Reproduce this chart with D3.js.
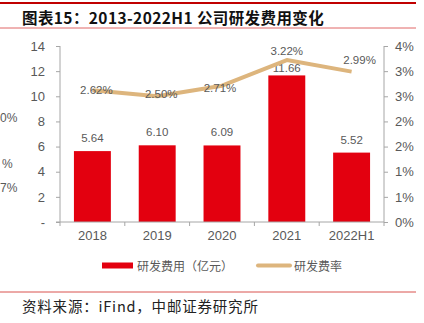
<!DOCTYPE html>
<html><head><meta charset="utf-8">
<script src="https://cdn.jsdelivr.net/npm/d3@7"></script>
<style>
html,body{margin:0;padding:0;background:#fff;}
svg{display:block;}
</style></head>
<body>
<svg id="c" width="424" height="323"></svg>
<script>
const categories = ["2018","2019","2020","2021","2022H1"];
const rdExpense = [5.64, 6.10, 6.09, 11.66, 5.52];
const rdRatio = [2.62, 2.50, 2.71, 3.22, 2.99];
const leftTicks = [0,2,4,6,8,10,12,14];
const leftTickLabels = ["-","2","4","6","8","10","12","14"];
const rightTicks = [0,0.5,1,1.5,2,2.5,3,3.5];
const rightTickLabels = ["0%","1%","1%","2%","2%","3%","3%","4%"];
const legendLabels = ["研发费用（亿元）","研发费率"];
const titleText = "图表15：2013-2022H1 公司研发费用变化";
const sourceText = "资料来源：iFind，中邮证券研究所";
const strayLabels = ["0%","%","7%"];

const svg = d3.select("#c");
const latin = "'Liberation Sans', Arial, 'Noto Sans CJK SC', sans-serif";
const cjk = "'Noto Sans CJK SC', sans-serif";
const gray = "#595959";
const axisGray = "#a6a6a6";
const barRed = "#E3000F";
const lineTan = "#DDB57D";

// header lines + title
svg.append("line").attr("x1",0).attr("x2",416).attr("y1",3).attr("y2",3).attr("stroke","#C00000").attr("stroke-width",2);
svg.append("line").attr("x1",0).attr("x2",416).attr("y1",28).attr("y2",28).attr("stroke","#E06666").attr("stroke-width",1);
svg.append("text").attr("x",22).attr("y",16.5).attr("dominant-baseline","central")
  .attr("font-family",cjk).attr("font-weight","bold").attr("font-size",15.5).attr("fill","#111")
  .attr("letter-spacing",0.4).text(titleText);

const L=60, R=384, T=46, B=222;
const x = d3.scaleBand().domain(categories).range([L,R]).paddingInner(0.43).paddingOuter(0.215);
const xb = d3.scaleBand().domain(categories).range([L,R]);
const yL = d3.scaleLinear().domain([0,14]).range([B,T]);
const yR = d3.scaleLinear().domain([0,3.5]).range([B,T]);

// stray partial labels at left edge (from a neighbouring chart)
[[0,118],[2,164],[0,188]].forEach((p,i)=>{
  svg.append("text").attr("x",p[0]).attr("y",p[1]).attr("dominant-baseline","central")
   .attr("font-family",latin).attr("font-size",12).attr("fill",gray).text(strayLabels[i]);
});

// left axis
const gl = svg.append("g").attr("transform",`translate(${L},0)`)
  .call(d3.axisLeft(yL).tickValues(leftTicks).tickFormat((d,i)=>leftTickLabels[i]).tickSize(4).tickPadding(11));
// right axis
const gr = svg.append("g").attr("transform",`translate(${R},0)`)
  .call(d3.axisRight(yR).tickValues(rightTicks).tickFormat((d,i)=>rightTickLabels[i]).tickSize(4).tickPadding(7));
[gl,gr].forEach(g=>{
  g.select(".domain").attr("stroke",axisGray).attr("d",`M0,${T}V${B}`);
  g.selectAll(".tick line").attr("stroke",axisGray);
  g.selectAll(".tick text").attr("font-family",latin).attr("font-size",13).attr("fill",gray);
});

// bars
svg.append("g").selectAll("rect").data(rdExpense).join("rect")
  .attr("x",(d,i)=>x(categories[i])).attr("width",x.bandwidth())
  .attr("y",d=>yL(d)).attr("height",d=>B-yL(d)).attr("fill",barRed);

// x axis
const gx = svg.append("g").attr("transform",`translate(0,${B})`)
  .call(d3.axisBottom(xb).tickSize(0).tickPadding(9));
gx.select(".domain").attr("stroke",axisGray).attr("d",`M56,0H${R}`);
gx.selectAll(".tick text").attr("font-family",latin).attr("font-size",13).attr("fill",gray);
categories.concat([null]).forEach((c,i)=>{
  const xx = i<categories.length ? xb(c) : R;
  svg.append("line").attr("x1",xx).attr("x2",xx).attr("y1",B).attr("y2",B+4).attr("stroke",axisGray);
});

// bar labels
svg.append("g").selectAll("text").data(rdExpense).join("text")
  .attr("x",(d,i)=>x(categories[i])+x.bandwidth()/2)
  .attr("y",(d,i)=>yL(d)-(i===3?7:13))
  .attr("text-anchor","middle").attr("dominant-baseline","central")
  .attr("font-family",latin).attr("font-size",11.5).attr("fill",gray)
  .text(d=>d.toFixed(2));

// line
const cx = c=>xb(c)+xb.bandwidth()/2;
const line = d3.line().x((d,i)=>cx(categories[i])).y(d=>yR(d));
svg.append("path").datum(rdRatio).attr("d",line).attr("fill","none")
  .attr("stroke",lineTan).attr("stroke-width",4).attr("stroke-linejoin","round").attr("stroke-linecap","butt");

// line labels
const nudges = [[4,0],[4,-2],[-2,2],[0,-9],[8,-12]];
svg.append("g").selectAll("text").data(rdRatio).join("text")
  .attr("x",(d,i)=>cx(categories[i])+nudges[i][0])
  .attr("y",(d,i)=>yR(d)+nudges[i][1])
  .attr("text-anchor","middle").attr("dominant-baseline","central")
  .attr("font-family",latin).attr("font-size",11.5).attr("fill",gray)
  .text(d=>d.toFixed(2)+"%");

// legend
const ly = 265.5;
svg.append("rect").attr("x",102).attr("y",ly-3).attr("width",31).attr("height",6).attr("fill",barRed);
svg.append("text").attr("x",137).attr("y",ly).attr("dominant-baseline","central")
  .attr("font-family",cjk).attr("font-size",12).attr("fill",gray).text(legendLabels[0]);
svg.append("line").attr("x1",258).attr("x2",290).attr("y1",ly).attr("y2",ly)
  .attr("stroke",lineTan).attr("stroke-width",4).attr("stroke-linecap","round");
svg.append("text").attr("x",294).attr("y",ly).attr("dominant-baseline","central")
  .attr("font-family",cjk).attr("font-size",12).attr("fill",gray).text(legendLabels[1]);

// footer
svg.append("line").attr("x1",0).attr("x2",416).attr("y1",292).attr("y2",292).attr("stroke","#D9534F").attr("stroke-width",1);
svg.append("text").attr("x",22).attr("y",305.5).attr("dominant-baseline","central")
  .attr("font-family",cjk).attr("font-size",14.5).attr("fill","#222").attr("letter-spacing",0.8).text(sourceText);
</script>
</body></html>
